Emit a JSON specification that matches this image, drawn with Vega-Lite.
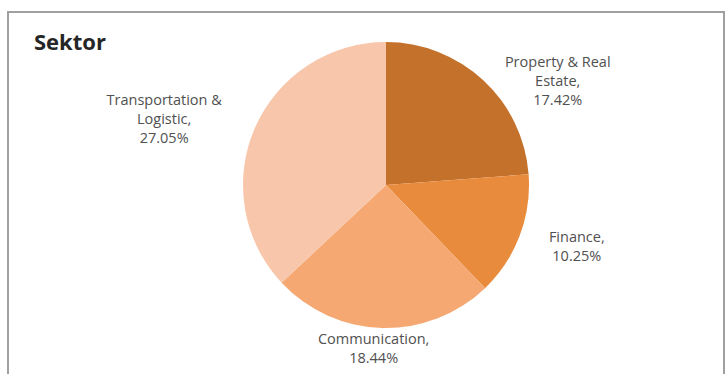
{
  "$schema": "https://vega.github.io/schema/vega-lite/v6.json",
  "width": 716,
  "height": 362,
  "autosize": "none",
  "padding": {"left": 8, "top": 12, "right": 4, "bottom": 0},
  "background": "#ffffff",
  "config": {
    "view": {"stroke": null},
    "font": "Open Sans"
  },
  "title": {
    "text": "Sektor",
    "anchor": "start",
    "frame": "group",
    "orient": "top",
    "font": "Open Sans",
    "fontSize": 22,
    "fontWeight": "bold",
    "color": "#262626",
    "baseline": "alphabetic",
    "offset": 0,
    "dx": 26,
    "dy": 61
  },
  "datasets": {
    "sectors": [
      {"sector": "Property & Real Estate", "share": 17.42, "label": "Property & Real\nEstate,\n17.42%"},
      {"sector": "Finance", "share": 10.25, "label": "Finance,\n10.25%"},
      {"sector": "Communication", "share": 18.44, "label": "Communication,\n18.44%"},
      {"sector": "Transportation & Logistic", "share": 27.05, "label": "Transportation &\nLogistic,\n27.05%"}
    ],
    "frame": [{"name": "frame"}]
  },
  "layer": [
    {
      "data": {"name": "frame"},
      "mark": {"type": "rect", "x": 0, "y": 0, "x2": {"expr": "width"}, "y2": {"expr": "height+6"}, "fill": null, "stroke": "#a0a0a0", "strokeWidth": 2},
      "encoding": {}
    },
    {
      "data": {"name": "sectors"},
      "transform": [{"window": [{"op": "row_number", "as": "idx"}]}],
      "encoding": {
        "theta": {"field": "share", "type": "quantitative", "stack": true},
        "order": {"field": "idx", "type": "quantitative"},
        "color": {
          "field": "sector",
          "type": "nominal",
          "scale": {
            "domain": ["Property & Real Estate", "Finance", "Communication", "Transportation & Logistic"],
            "range": ["#c4712c", "#e98b3c", "#f5a872", "#f8c7ab"]
          },
          "legend": null
        }
      },
      "layer": [
        {
          "mark": {"type": "arc", "radius": 143, "x": {"expr": "width/2+20"}, "y": {"expr": "height/2-8"}}
        },
        {
          "mark": {"type": "text", "radius": 201, "dx": 35, "dy": 25, "x": {"expr": "width/2+20"}, "y": {"expr": "height/2-8"}, "lineBreak": "\n", "lineHeight": 19, "fontSize": 14.5, "align": "center", "baseline": "middle"},
          "encoding": {"text": {"condition": {"test": "datum.sector === 'Property & Real Estate'", "field": "label"}, "value": ""}, "color": {"value": "#505050"}}
        },
        {
          "mark": {"type": "text", "radius": 200, "dx": 4, "dy": -18, "x": {"expr": "width/2+20"}, "y": {"expr": "height/2-8"}, "lineBreak": "\n", "lineHeight": 19, "fontSize": 14.5, "align": "center", "baseline": "middle"},
          "encoding": {"text": {"condition": {"test": "datum.sector === 'Finance'", "field": "label"}, "value": ""}, "color": {"value": "#505050"}}
        },
        {
          "mark": {"type": "text", "radius": 163, "dx": -8, "dy": -8, "x": {"expr": "width/2+20"}, "y": {"expr": "height/2-8"}, "lineBreak": "\n", "lineHeight": 19, "fontSize": 14.5, "align": "center", "baseline": "middle"},
          "encoding": {"text": {"condition": {"test": "datum.sector === 'Communication'", "field": "label"}, "value": ""}, "color": {"value": "#505050"}}
        },
        {
          "mark": {"type": "text", "radius": 232, "dx": -9, "dy": 8, "x": {"expr": "width/2+20"}, "y": {"expr": "height/2-8"}, "lineBreak": "\n", "lineHeight": 19, "fontSize": 14.5, "align": "center", "baseline": "middle"},
          "encoding": {"text": {"condition": {"test": "datum.sector === 'Transportation & Logistic'", "field": "label"}, "value": ""}, "color": {"value": "#505050"}}
        }
      ]
    }
  ]
}
